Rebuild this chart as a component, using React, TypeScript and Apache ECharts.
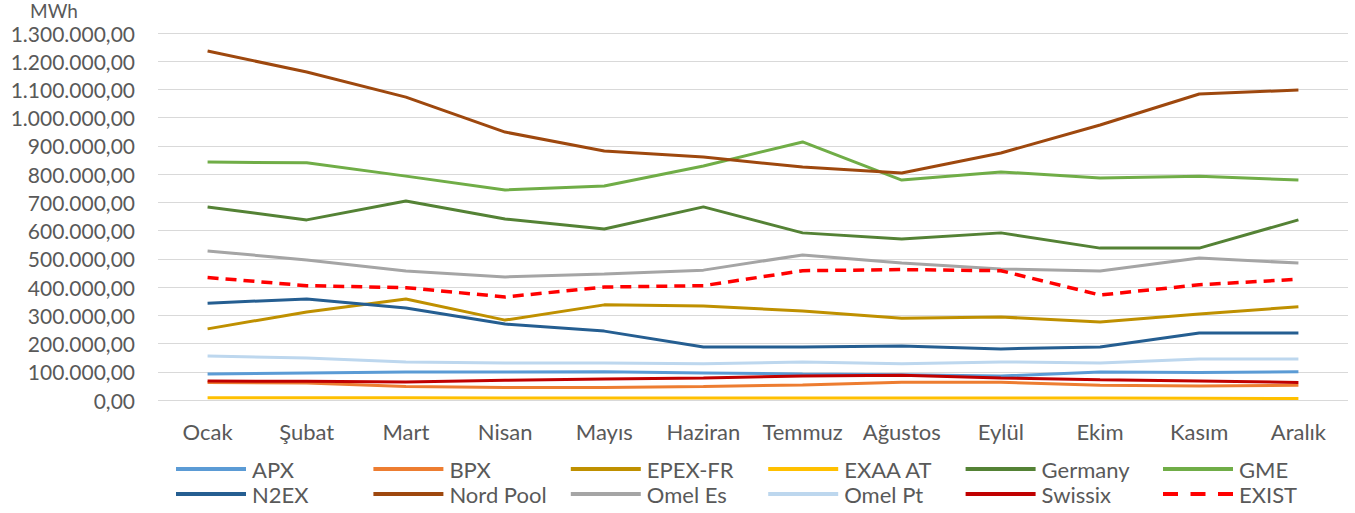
import React, { useEffect, useRef } from "react";
import * as echarts from "echarts";

const months = ["Ocak", "Şubat", "Mart", "Nisan", "Mayıs", "Haziran", "Temmuz", "Ağustos", "Eylül", "Ekim", "Kasım", "Aralık"];

const apx = [92000, 96000, 99000, 99000, 100000, 96000, 92000, 89000, 85000, 99000, 97000, 100000];
const bpx = [62000, 60000, 48000, 44000, 44000, 48000, 53000, 63000, 63000, 52000, 50000, 52000];
const epexFr = [252000, 312000, 358000, 283000, 337000, 333000, 315000, 290000, 294000, 276000, 305000, 330000];
const exaaAt = [8000, 8000, 8000, 7000, 7000, 7000, 7000, 7000, 7000, 7000, 6000, 5000];
const germany = [684000, 638000, 705000, 641000, 606000, 684000, 592000, 570000, 592000, 538000, 538000, 638000];
const gme = [843000, 840000, 793000, 744000, 758000, 829000, 914000, 779000, 808000, 786000, 793000, 779000];
const n2ex = [343000, 358000, 326000, 269000, 244000, 188000, 188000, 191000, 181000, 188000, 237000, 237000];
const nordPool = [1236000, 1162000, 1073000, 949000, 882000, 861000, 825000, 804000, 875000, 974000, 1084000, 1098000];
const omelEs = [528000, 496000, 457000, 436000, 446000, 460000, 514000, 485000, 464000, 457000, 503000, 485000];
const omelPt = [156000, 149000, 135000, 131000, 131000, 128000, 135000, 128000, 135000, 131000, 145000, 145000];
const swissix = [67000, 66000, 64000, 70000, 74000, 78000, 85000, 88000, 78000, 72000, 67000, 62000];
const exist = [434000, 405000, 398000, 365000, 400000, 405000, 458000, 462000, 458000, 372000, 408000, 428000];

const seriesDefs = [
  { name: "APX", data: apx, color: "#5B9BD5" },
  { name: "BPX", data: bpx, color: "#ED7D31" },
  { name: "EPEX-FR", data: epexFr, color: "#BF9000" },
  { name: "EXAA AT", data: exaaAt, color: "#FFC000" },
  { name: "Germany", data: germany, color: "#548235" },
  { name: "GME", data: gme, color: "#70AD47" },
  { name: "N2EX", data: n2ex, color: "#255E91" },
  { name: "Nord Pool", data: nordPool, color: "#9E480E" },
  { name: "Omel Es", data: omelEs, color: "#A5A5A5" },
  { name: "Omel Pt", data: omelPt, color: "#BDD7EE" },
  { name: "Swissix", data: swissix, color: "#C00000" },
  { name: "EXIST", data: exist, color: "#FF0000", dashed: true },
];

function fmt(v: number): string {
  const s = Math.round(v).toString();
  const withDots = s.replace(/\B(?=(\d{3})+(?!\d))/g, ".");
  return withDots + ",00";
}

const DASH_ICON = "path://M0,0h15v4h-15zM27.5,0h15v4h-15zM55,0h15v4h-15z";

export default function App() {
  const ref = useRef<HTMLDivElement>(null);
  useEffect(() => {
    document.body.style.margin = "0";
    if (!ref.current) return;
    const chart = echarts.init(ref.current, undefined, { renderer: "svg" });
    const font = "Lato, 'Open Sans', sans-serif";
    const legends = seriesDefs.map((s, i) => ({
      left: 171 + (i % 6) * 197.4,
      top: i < 6 ? 453 : 478,
      itemWidth: 70,
      itemHeight: 4,
      itemGap: 0,
      icon: s.dashed ? DASH_ICON : "rect",
      itemStyle: { borderWidth: 0 },
      textStyle: { color: "#595959", fontSize: 22, fontFamily: font, padding: [0, 0, 0, 1] },
      data: [s.name],
    }));
    chart.setOption({
      animation: false,
      textStyle: { fontFamily: font },
      grid: { left: 158, right: 7, top: 33, bottom: 113, containLabel: false },
      graphic: [
        {
          type: "text",
          left: 30,
          top: 1,
          style: { text: "MWh", fill: "#595959", font: `19px ${font}` },
        },
      ],
      legend: legends,
      xAxis: {
        type: "category",
        data: months,
        boundaryGap: true,
        axisLine: { show: false },
        axisTick: { show: false },
        axisLabel: { color: "#595959", fontSize: 22, fontFamily: font, margin: 20, interval: 0 },
      },
      yAxis: {
        type: "value",
        min: 0,
        max: 1300000,
        interval: 100000,
        axisLine: { show: false },
        axisTick: { show: false },
        axisLabel: { color: "#595959", fontSize: 21, fontFamily: font, margin: 23, formatter: (v: number) => fmt(v) },
        splitLine: { lineStyle: { color: "#D9D9D9", width: 1 } },
      },
      series: seriesDefs.map((s) => ({
        name: s.name,
        type: "line",
        data: s.data,
        symbol: "none",
        color: s.color,
        lineStyle: { color: s.color, width: s.dashed ? 3.5 : 3, type: s.dashed ? [11, 7] : "solid" },
      })),
    });
    return () => chart.dispose();
  }, []);
  return <div ref={ref} style={{ width: 1355, height: 513 }} />;
}
